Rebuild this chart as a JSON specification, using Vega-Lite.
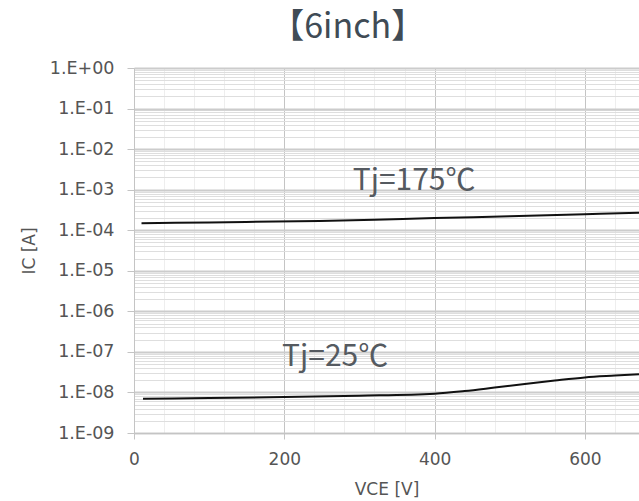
{
  "$schema": "https://vega.github.io/schema/vega-lite/v6.json",
  "width": 505,
  "height": 365,
  "autosize": "none",
  "padding": {"left": 134, "top": 68, "right": 0, "bottom": 68},
  "background": "white",
  "title": {
    "text": "【6inch】",
    "font": "Noto Sans CJK JP",
    "fontSize": 34,
    "fontWeight": "normal",
    "color": "#404b55",
    "anchor": "middle",
    "frame": "bounds",
    "baseline": "alphabetic",
    "offset": -13,
    "dx": 18
  },
  "config": {
    "view": {"stroke": null},
    "axis": {"labelFont": "DejaVu Sans", "titleFont": "DejaVu Sans", "labelColor": "#555555", "titleColor": "#555555"}
  },
  "datasets": {
    "curves": [
      {"series": "175", "V": 10, "I": 1.48e-4},
      {"series": "175", "V": 100, "I": 1.56e-4},
      {"series": "175", "V": 247, "I": 1.7e-4},
      {"series": "175", "V": 320, "I": 1.82e-4},
      {"series": "175", "V": 400, "I": 2.0e-4},
      {"series": "175", "V": 500, "I": 2.2e-4},
      {"series": "175", "V": 600, "I": 2.47e-4},
      {"series": "175", "V": 672, "I": 2.7e-4},
      {"series": "25", "V": 12, "I": 7.0e-9},
      {"series": "25", "V": 100, "I": 7.3e-9},
      {"series": "25", "V": 200, "I": 7.7e-9},
      {"series": "25", "V": 300, "I": 8.3e-9},
      {"series": "25", "V": 400, "I": 9.3e-9},
      {"series": "25", "V": 440, "I": 1.08e-8},
      {"series": "25", "V": 480, "I": 1.32e-8},
      {"series": "25", "V": 520, "I": 1.62e-8},
      {"series": "25", "V": 560, "I": 1.97e-8},
      {"series": "25", "V": 600, "I": 2.35e-8},
      {"series": "25", "V": 640, "I": 2.6e-8},
      {"series": "25", "V": 672, "I": 2.8e-8}
    ],
    "labels": [
      {"text": "Tj=175℃", "V": 291, "I": 1.0e-3},
      {"text": "Tj=25℃", "V": 197, "I": 4.5e-8}
    ]
  },
  "layer": [
    {
      "data": {"name": "curves"},
      "mark": {"type": "line", "color": "#111111", "strokeWidth": 2, "interpolate": "monotone", "clip": true},
      "encoding": {
        "x": {
          "field": "V", "type": "quantitative",
          "scale": {"domain": [0, 672], "nice": false, "zero": false},
          "axis": {
            "title": "VCE [V]",
            "titleFontSize": 17,
            "titleFontWeight": "normal",
            "titlePadding": 14,
            "labelFontSize": 17,
            "labelPadding": 12,
            "labelOverlap": false,
            "labelBound": false,
            "labelFlush": false,
            "tickCount": 200,
            "values": [0, 40, 80, 120, 160, 200, 240, 280, 320, 360, 400, 440, 480, 520, 560, 600, 640],
            "labelExpr": "(datum.value == 0 || datum.value == 200 || datum.value == 400 || datum.value == 600) ? '' + datum.value : ''",
            "grid": true,
            "gridColor": {"condition": {"test": "datum.value == 0 || datum.value == 200 || datum.value == 400 || datum.value == 600", "value": "#c4c4c4"}, "value": "#eeeeee"},
            "gridWidth": 1,
            "tickSize": 6,
            "tickColor": {"condition": {"test": "datum.value == 0 || datum.value == 200 || datum.value == 400 || datum.value == 600", "value": "#c4c4c4"}, "value": "rgba(0,0,0,0)"},
            "domain": true,
            "domainColor": "#c4c4c4"
          }
        },
        "y": {
          "field": "I", "type": "quantitative",
          "scale": {"type": "log", "domain": [1e-9, 1], "nice": false},
          "axis": {
            "title": "IC [A]",
            "titleFontSize": 17,
            "titleFontWeight": "normal",
            "titlePadding": 11,
            "labelFontSize": 17.5,
            "labelPadding": 13,
            "labelOverlap": false,
            "labelBound": false,
            "tickCount": 200,
            "values": [1e-9,2e-9,3e-9,4e-9,5e-9,6e-9,7e-9,8e-9,9e-9,1e-8,2e-8,3e-8,4e-8,5e-8,6e-8,7e-8,8e-8,9e-8,1e-7,2e-7,3e-7,4e-7,5e-7,6e-7,7e-7,8e-7,9e-7,1e-6,2e-6,3e-6,4e-6,5e-6,6e-6,7e-6,8e-6,9e-6,1e-5,2e-5,3e-5,4e-5,5e-5,6e-5,7e-5,8e-5,9e-5,1e-4,2e-4,3e-4,4e-4,5e-4,6e-4,7e-4,8e-4,9e-4,1e-3,2e-3,3e-3,4e-3,5e-3,6e-3,7e-3,8e-3,9e-3,1e-2,2e-2,3e-2,4e-2,5e-2,6e-2,7e-2,8e-2,9e-2,1e-1,2e-1,3e-1,4e-1,5e-1,6e-1,7e-1,8e-1,9e-1,1],
            "labelExpr": "abs(log(datum.value)/LN10 - round(log(datum.value)/LN10)) < 0.001 ? (round(log(datum.value)/LN10) >= 0 ? '1.E+00' : '1.E-0' + (-round(log(datum.value)/LN10))) : ''",
            "grid": true,
            "gridColor": {"condition": {"test": "abs(log(datum.value)/LN10 - round(log(datum.value)/LN10)) < 0.001", "value": "#cccccc"}, "value": "#dedede"},
            "gridWidth": {"condition": {"test": "abs(log(datum.value)/LN10 - round(log(datum.value)/LN10)) < 0.001", "value": 2}, "value": 1},
            "tickSize": 7,
            "tickColor": {"condition": {"test": "abs(log(datum.value)/LN10 - round(log(datum.value)/LN10)) < 0.001", "value": "#c4c4c4"}, "value": "rgba(0,0,0,0)"},
            "domain": true,
            "domainColor": "#c4c4c4"
          }
        },
        "detail": {"field": "series", "type": "nominal"}
      }
    },
    {
      "data": {"name": "labels"},
      "mark": {"type": "text", "align": "left", "baseline": "alphabetic", "font": "Noto Sans CJK JP", "fontSize": 30, "color": "#555a60"},
      "encoding": {
        "x": {"field": "V", "type": "quantitative"},
        "y": {"field": "I", "type": "quantitative"},
        "text": {"field": "text", "type": "nominal"}
      }
    }
  ]
}
